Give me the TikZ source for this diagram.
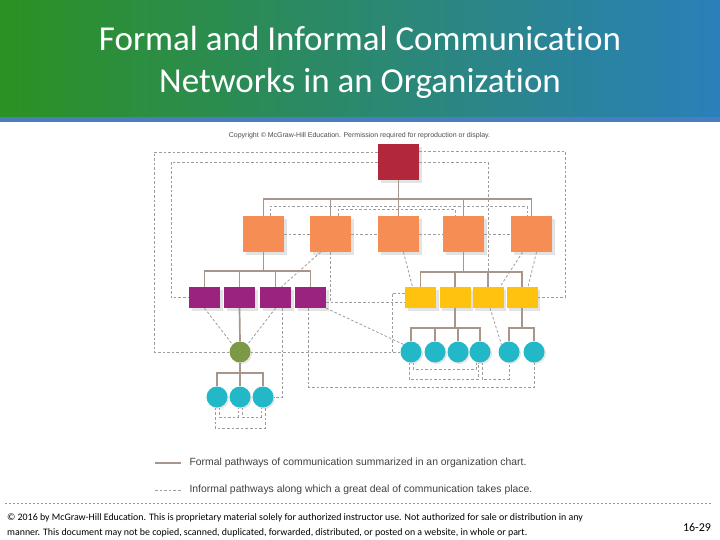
\documentclass[tikz,border=0pt]{standalone}
\usepackage{fontspec}
\setmainfont{Carlito}[Ligatures=NoCommon]
\newfontfamily\arialf{Liberation Sans}
\usetikzlibrary{shadows}
\definecolor{hdgreen}{HTML}{2C9122}
\definecolor{hdblue}{HTML}{2A80BA}
\definecolor{hdband}{HTML}{4A7DC0}
\definecolor{bossred}{HTML}{B3273A}
\definecolor{mgrorange}{HTML}{F58D55}
\definecolor{purp}{HTML}{9A2380}
\definecolor{yell}{HTML}{FFC20E}
\definecolor{grn}{HTML}{7C9A45}
\definecolor{cyn}{HTML}{22B8C8}
\definecolor{formalc}{HTML}{A8968A}
\definecolor{infc}{HTML}{9C9C9C}
\definecolor{footc}{HTML}{9A9A7A}
\tikzset{%
  sqbox/.style={inner sep=0pt, drop shadow={shadow xshift=2.5pt, shadow yshift=-3pt, opacity=0.22}},
  boss/.style={sqbox, fill=bossred, minimum width=41pt, minimum height=36pt},
  mgr/.style={sqbox, fill=mgrorange, minimum width=41pt, minimum height=36pt},
  purpbox/.style={sqbox, fill=purp, minimum width=31pt, minimum height=21pt},
  yelbox/.style={sqbox, fill=yell, minimum width=31pt, minimum height=21pt},
  worker/.style={circle, inner sep=0pt, minimum size=21pt, fill=cyn, drop shadow={shadow xshift=1.5pt, shadow yshift=-1.5pt, opacity=0.2}},
  formal/.style={draw=formalc, line width=1.7pt},
  informal/.style={draw=infc, line width=0.8pt, dash pattern=on 2.6pt off 2pt},
  legendtext/.style={anchor=west, font=\arialf\fontsize{10.4}{12}\selectfont, text=black!75}%
}

\begin{document}
\begin{tikzpicture}[x=1pt, y=-1pt]
\useasboundingbox (0,0) rectangle (720,540);

% Header
\shade[left color=hdgreen, right color=hdblue] (0,0) rectangle (720,117);
\fill[hdband] (0,117) rectangle (720,122);
\node[text=white, align=center, font=\fontsize{35}{42}\selectfont] (title) at (360,62)
  {Formal and Informal Communication\\Networks in an Organization};

\node[font=\arialf\fontsize{7}{8}\selectfont, text=black!70] (copy) at (359.5,136)
  {Copyright \textcopyright{} McGraw-Hill Education. Permission required for reproduction or display.};

% Organization chart
\node[boss] (top) at (398.5,162) {};

\node[mgr] (m1) at (263.5,234) {};
\node[mgr] (m2) at (330.5,234) {};
\node[mgr] (m3) at (398.5,234) {};
\node[mgr] (m4) at (463.5,234) {};
\node[mgr] (m5) at (531.5,234) {};

\node[purpbox] (p1) at (204.5,297.5) {};
\node[purpbox] (p2) at (239.5,297.5) {};
\node[purpbox] (p3) at (275.5,297.5) {};
\node[purpbox] (p4) at (310.5,297.5) {};

\node[yelbox] (y1) at (420.5,297.5) {};
\node[yelbox] (y2) at (455,297.5) {};
\node[yelbox] (y3) at (488,297.5) {};
\node[yelbox] (y4) at (522,297.5) {};

\node[worker, fill=grn] (g) at (240,352) {};
\node[worker] (c1) at (217,397) {};
\node[worker] (c2) at (240,397) {};
\node[worker] (c3) at (263,397) {};

\node[worker] (d1) at (411,352) {};
\node[worker] (d2) at (435,352) {};
\node[worker] (d3) at (458,352) {};
\node[worker] (d4) at (480,352) {};
\node[worker] (d5) at (509,352) {};
\node[worker] (d6) at (534,352) {};

% Formal pathways
\coordinate (bus0) at (398.5,199);
\draw[formal] (top.south) -- (bus0);
\draw[formal] (m1.north) |- (bus0) -| (m5.north);
\foreach \n in {m2,m3,m4} \draw[formal] (\n.north) -- (\n.north |- bus0);

\coordinate (busp) at (263.5,271);
\draw[formal] (m1.south) -- (busp);
\draw[formal] (p1.north) |- (busp) -| (p4.north);
\foreach \n in {p2,p3} \draw[formal] (\n.north) -- (\n.north |- busp);

\coordinate (busy) at (463.5,272);
\draw[formal] (m4.south) -- (busy);
\draw[formal] (y1.north) |- (busy) -| (y4.north);
\foreach \n in {y2,y3} \draw[formal] (\n.north) -- (\n.north |- busy);

\draw[formal] (p2.south) -- (g.north);

\coordinate (busc) at (240,373);
\draw[formal] (g.south) -- (busc);
\draw[formal] (c1.north) |- (busc) -| (c3.north);
\draw[formal] (c2.north) -- (busc);

\coordinate (busd) at (455,328);
\draw[formal] (y2.south) -- (busd);
\draw[formal] (d1.north) |- (busd) -| (d4.north);
\foreach \n in {d2,d3} \draw[formal] (\n.north) -- (\n.north |- busd);

\coordinate (buse) at (522,328);
\draw[formal] (y4.south) -- (buse);
\draw[formal] (d5.north) |- (buse) -| (d6.north);

% Informal pathways
\draw[informal] ([yshift=10pt]top.west) -- (154,152) -- (154,352) -- (g.west);
\draw[informal] (g.east) -- (392,352) -- (d1.west);
\draw[informal] ([yshift=11pt]top.east) -- (565,151) -- (565,297.5) -- (y4.east);
\draw[informal] (top.west) -- (171,162) -- (171,297.5) -- (p1.west);
\draw[informal] (top.east) -- (y3.north |- top.east) -- (y3.north);

\draw[informal] ([xshift=6.5pt]m1.north) -- (270,206) -- (527,206) -- ([xshift=-4.5pt]m5.north);
\draw[informal] ([xshift=7.5pt]m2.north) -- (338,209.5) -- (455,209.5) -- ([xshift=-8.5pt]m4.north);
\draw[informal] (m1) -- (m2) -- (m3) -- (m4) -- (m5);

\draw[informal] ([xshift=-10pt]m2.south) -- ([xshift=6pt]p3.north);
\draw[informal] (m2.south) -- (330.5,302);
\draw[informal] ([yshift=-4.5pt]p4.east) -- ([yshift=-4.5pt]y1.west);
\draw[informal] ([xshift=5pt]m3.south) -- ([xshift=-8pt]y1.north);
\draw[informal] ([xshift=-9pt]m5.south) -- ([xshift=12pt]y3.north);
\draw[informal] ([xshift=5pt]m5.south) -- ([xshift=6pt]y4.north);
\draw[informal] ([yshift=4.5pt]y1.west) -- (392,293) -- (392,352);

\draw[informal] (p1.south) -- (g.north west);
\draw[informal] (p3.south) -- (g.north east);
\draw[informal] ([xshift=6.5pt]p3.south) -- (282,397) -- (c3.east);
\draw[informal] ([xshift=-2.5pt]p4.south) -- (308,387) -- (534,387) -- (d6.south);
\draw[informal] (p4.south east) -- (d1.north west);
\draw[informal] ([xshift=2pt]y3.south) -- (d5.north west);

\draw[informal] ([xshift=-2pt]c1.south) -- (215,428) -- (265,428) -- ([xshift=2pt]c3.south);
\draw[informal] ([xshift=2pt]c1.south) -- (219,417) -- (238,417) -- ([xshift=-2pt]c2.south);
\draw[informal] ([xshift=2pt]c2.south) -- (242,417) -- (261,417) -- ([xshift=-2pt]c3.south);

\draw[informal] ([xshift=2pt]d1.south) -- (413,369) -- (476,369) -- ([xshift=-4pt]d4.south);
\draw[informal] ([xshift=-2pt]d1.south) -- (409,379) -- (478,379) -- ([xshift=-2pt]d4.south);
\draw[informal] ([xshift=2pt]d4.south) -- (482,379) -- (509,379) -- (d5.south);

% Legend
\draw[formal, line width=1.3pt] (155,463) -- (181,463);
\node[legendtext] (lgf) at (186,463)
  {Formal pathways of communication summarized in an organization chart.};
\draw[informal] (155,490) -- (181,490);
\node[legendtext] (lgi) at (186,490)
  {Informal pathways along which a great deal of communication takes place.};

% Footer
\draw[footc, line width=0.6pt, dash pattern=on 2pt off 2pt] (5,503) -- (713,503);
\node[anchor=north west, align=left, inner sep=0pt, font=\fontsize{9.9}{15}\selectfont] (foot) at (7,513)
  {\textcopyright{} 2016 by McGraw-Hill Education. This is proprietary material solely for authorized instructor use. Not authorized for sale or distribution in any\\
   manner. This document may not be copied, scanned, duplicated, forwarded, distributed, or posted on a website, in whole or part.};
\node[font=\fontsize{12}{14}\selectfont] (page) at (697,527) {16-29};

\end{tikzpicture}
\end{document}
